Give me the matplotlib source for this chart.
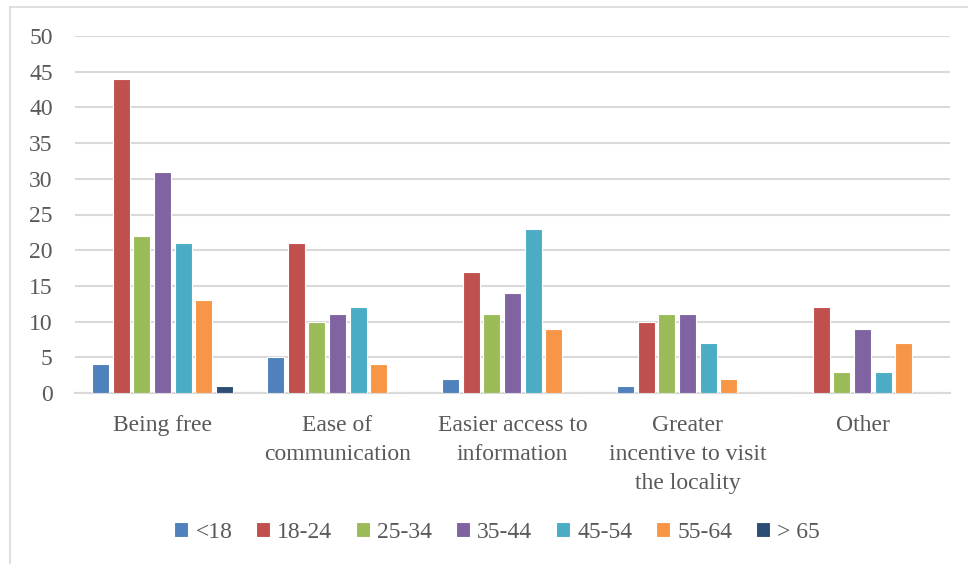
import numpy as np
import matplotlib.pyplot as plt
from matplotlib.lines import Line2D

categories = ['Being free', 'Ease of\ncommunication', 'Easier access to\ninformation',
              'Greater\nincentive to visit\nthe locality', 'Other']
groups = ['<18', '18-24', '25-34', '35-44', '45-54', '55-64', '> 65']
values = [
    [4, 5, 2, 1, 0],
    [44, 21, 17, 10, 12],
    [22, 10, 11, 11, 3],
    [31, 11, 14, 11, 9],
    [21, 12, 23, 7, 3],
    [13, 4, 9, 2, 7],
    [1, 0, 0, 0, 0],
]
colors = ['#4F81BD', '#C0504D', '#9BBB59', '#8064A2', '#4BACC6', '#F79646', '#2C4D75']

plt.rcParams['font.family'] = ['Liberation Serif']
txt = '#595959'

fig = plt.figure(figsize=(9.68, 5.64), dpi=100)
ax = fig.add_axes([75/968, 1-393/564, 875/968, 357/564])

x = np.arange(len(categories))
step = 0.118
width = 0.097
for i, (g, v) in enumerate(zip(groups, values)):
    ax.bar(x + (i - 3)*step, v, width, color=colors[i], edgecolor='white',
           linewidth=0.8, label=g, zorder=3)

ax.set_xlim(-0.5, 4.5)
ax.set_ylim(0, 50)
ax.set_yticks(range(0, 51, 5))
ax.grid(axis='y', color='#d9d9d9', linewidth=1.5, zorder=0)
for s in ['top', 'right', 'left']:
    ax.spines[s].set_visible(False)
ax.spines['bottom'].set_color('#d9d9d9')
ax.spines['bottom'].set_linewidth(1.5)
ax.set_xticks(x)
ax.set_xticklabels(categories, linespacing=1.48)
ax.tick_params(axis='both', length=0, colors=txt, labelsize=17)
ax.tick_params(axis='x', pad=16)
ax.tick_params(axis='y', pad=16)

fig.legend(loc='center', bbox_to_anchor=(497/968, 1-532/564), ncol=7, frameon=False,
           fontsize=17, labelcolor=txt, handlelength=0.6, handleheight=0.6,
           handletextpad=0.3, columnspacing=1.0)

# chart border
fig.add_artist(Line2D([9.5/968, 9.5/968], [0, 1-7/564], color='#d9d9d9', linewidth=1.2))
fig.add_artist(Line2D([9.5/968, 1], [1-7/564, 1-7/564], color='#d9d9d9', linewidth=1.2))

fig.savefig('out.png', dpi=100)
